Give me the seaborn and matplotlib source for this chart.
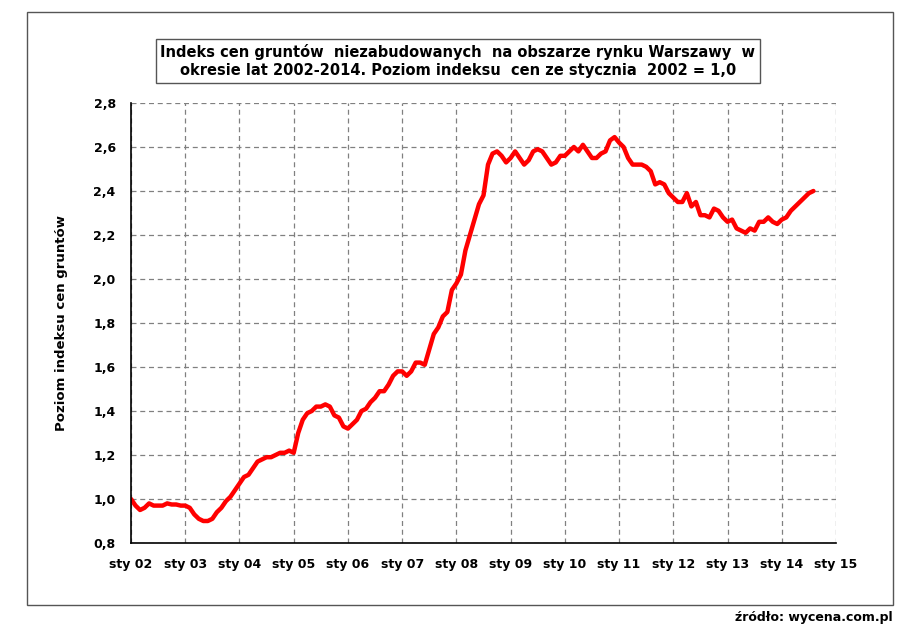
import matplotlib
matplotlib.use("Agg")
import matplotlib.pyplot as plt
import seaborn as sns
import numpy as np
import pandas as pd

values = [
 1.00,0.97,0.95,0.96,0.98,0.97,0.97,0.97,0.98,0.975,0.975,0.97,
 0.97,0.96,0.93,0.91,0.90,0.90,0.91,0.94,0.96,0.99,1.01,1.04,
 1.07,1.10,1.11,1.14,1.17,1.18,1.19,1.19,1.20,1.21,1.21,1.22,
 1.21,1.30,1.36,1.39,1.40,1.42,1.42,1.43,1.42,1.38,1.37,1.33,
 1.32,1.34,1.36,1.40,1.41,1.44,1.46,1.49,1.49,1.52,1.56,1.58,
 1.58,1.56,1.58,1.62,1.62,1.61,1.68,1.75,1.78,1.83,1.85,1.95,
 1.98,2.02,2.13,2.20,2.27,2.34,2.38,2.52,2.57,2.58,2.56,2.53,
 2.55,2.58,2.55,2.52,2.54,2.58,2.59,2.58,2.55,2.52,2.53,2.56,
 2.56,2.58,2.60,2.58,2.61,2.58,2.55,2.55,2.57,2.58,2.63,2.645,
 2.62,2.60,2.55,2.52,2.52,2.52,2.51,2.49,2.43,2.44,2.43,2.39,
 2.37,2.35,2.35,2.39,2.33,2.35,2.29,2.29,2.28,2.32,2.31,2.28,
 2.26,2.27,2.23,2.22,2.21,2.23,2.22,2.26,2.26,2.28,2.26,2.25,
 2.27,2.28,2.31,2.33,2.35,2.37,2.39,2.40,
]
tick_labels = ["sty 02","sty 03","sty 04","sty 05","sty 06","sty 07","sty 08",
               "sty 09","sty 10","sty 11","sty 12","sty 13","sty 14","sty 15"]
y_ticks = [0.8,1.0,1.2,1.4,1.6,1.8,2.0,2.2,2.4,2.6,2.8]

df = pd.DataFrame({"m": np.arange(len(values)), "v": values})

sns.set_style("white")
plt.rcParams['font.family'] = ['Verdana', 'DejaVu Sans']
plt.rcParams['text.color'] = 'black'
plt.rcParams['xtick.color'] = 'black'
plt.rcParams['ytick.color'] = 'black'
plt.rcParams['axes.labelcolor'] = 'black'
fig = plt.figure(figsize=(9.03, 6.31), dpi=100)
ax = fig.add_axes([131/903, 1-543/631, (836-131)/903, (543-103)/631])
sns.lineplot(data=df, x="m", y="v", ax=ax, color="#ff0000", linewidth=3.2)
ax.set_xlim(0, 156)
ax.set_ylim(0.8, 2.8)
ax.set_xticks(np.arange(0, 157, 12))
ax.set_xticklabels(tick_labels, fontsize=9, fontweight="bold")
ax.set_yticks(y_ticks)
ax.set_yticklabels([f"{t:.1f}".replace(".", ",") for t in y_ticks], fontsize=9, fontweight="bold")
ax.grid(True, color="#808080", linestyle=(0, (4, 3)), linewidth=0.9)
for s in ["top", "right"]:
    ax.spines[s].set_visible(False)
for s in ["left", "bottom"]:
    ax.spines[s].set_color("black")
    ax.spines[s].set_linewidth(1.2)
ax.tick_params(axis="both", direction="out", length=5, width=1, color="black", pad=6)
ax.set_xlabel("")
ax.set_ylabel("Poziom indeksu cen gruntów", fontsize=9.5, fontweight="bold", labelpad=18)

fig.patches.append(plt.Rectangle((27/903, 1-605/631), (893-27)/903, (605-12)/631,
                                 transform=fig.transFigure, fill=False, edgecolor="#555555", linewidth=1))
fig.text(458/903, 1-61/631,
         "Indeks cen gruntów  niezabudowanych  na obszarze rynku Warszawy  w\nokresie lat 2002-2014. Poziom indeksu  cen ze stycznia  2002 = 1,0",
         ha="center", va="center", fontsize=10.5, fontweight="bold", linespacing=1.3,
         bbox=dict(boxstyle="square,pad=0.3", facecolor="white", edgecolor="#555555", linewidth=1))
fig.text(893/903, 1-618/631, "źródło: wycena.com.pl", ha="right", va="center",
         fontsize=9, fontweight="bold")
fig.savefig("out.png", dpi=100)
